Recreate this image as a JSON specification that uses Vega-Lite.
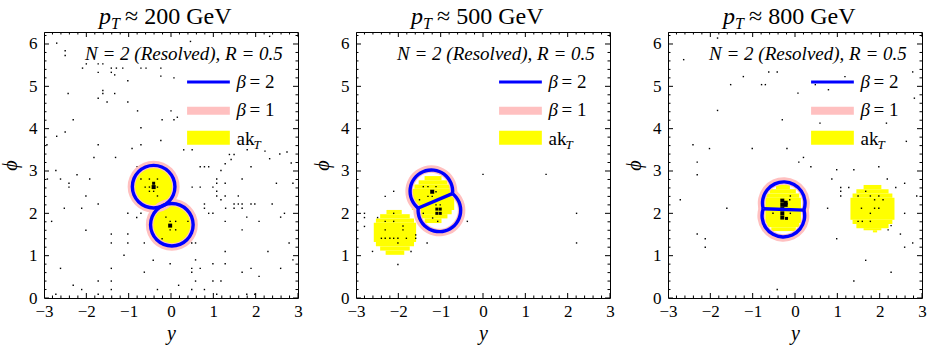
{
  "$schema": "https://vega.github.io/schema/vega-lite/v6.json",
  "background": "white",
  "padding": {"left": 0, "top": 4, "right": 0, "bottom": 2},
  "bounds": "flush",
  "spacing": 58,
  "datasets": {
    "xt": [{"x":-3,"m":1},{"x":-2.8,"m":0},{"x":-2.6,"m":0},{"x":-2.4,"m":0},{"x":-2.2,"m":0},{"x":-2,"m":1},{"x":-1.8,"m":0},{"x":-1.6,"m":0},{"x":-1.4,"m":0},{"x":-1.2,"m":0},{"x":-1,"m":1},{"x":-0.8,"m":0},{"x":-0.6,"m":0},{"x":-0.4,"m":0},{"x":-0.2,"m":0},{"x":0,"m":1},{"x":0.2,"m":0},{"x":0.4,"m":0},{"x":0.6,"m":0},{"x":0.8,"m":0},{"x":1,"m":1},{"x":1.2,"m":0},{"x":1.4,"m":0},{"x":1.6,"m":0},{"x":1.8,"m":0},{"x":2,"m":1},{"x":2.2,"m":0},{"x":2.4,"m":0},{"x":2.6,"m":0},{"x":2.8,"m":0},{"x":3,"m":1}],
    "yt": [{"y":0,"m":1},{"y":0.2,"m":0},{"y":0.4,"m":0},{"y":0.6,"m":0},{"y":0.8,"m":0},{"y":1,"m":1},{"y":1.2,"m":0},{"y":1.4,"m":0},{"y":1.6,"m":0},{"y":1.8,"m":0},{"y":2,"m":1},{"y":2.2,"m":0},{"y":2.4,"m":0},{"y":2.6,"m":0},{"y":2.8,"m":0},{"y":3,"m":1},{"y":3.2,"m":0},{"y":3.4,"m":0},{"y":3.6,"m":0},{"y":3.8,"m":0},{"y":4,"m":1},{"y":4.2,"m":0},{"y":4.4,"m":0},{"y":4.6,"m":0},{"y":4.8,"m":0},{"y":5,"m":1},{"y":5.2,"m":0},{"y":5.4,"m":0},{"y":5.6,"m":0},{"y":5.8,"m":0},{"y":6,"m":1},{"y":6.2,"m":0}],
    "p1_arcs": [{"x":-0.41,"y":2.63,"t1":0,"t2":6.2832},{"x":0.02,"y":1.73,"t1":0,"t2":6.2832}],
    "p2_arcs": [{"x":-1.22,"y":2.52,"t1":3.800,"t2":7.964},{"x":-1.03,"y":2.07,"t1":0.658,"t2":4.822}],
    "p3_arcs": [{"x":-0.265,"y":2.24,"t1":4.447,"t2":8.189},{"x":-0.275,"y":1.945,"t1":1.306,"t2":5.047}],
    "p2_chord": [{"x":-1.526,"y":2.125,"x2":-0.724,"y2":2.465}],
    "p3_chord": [{"x":-0.747,"y":2.109,"x2":0.207,"y2":2.076}],
    "p2_akt": [
      {"x":-2.30,"x2":-1.86,"y":1.02,"y2":1.12},{"x":-2.43,"x2":-1.73,"y":1.12,"y2":1.22},{"x":-2.53,"x2":-1.63,"y":1.22,"y2":1.32},{"x":-2.58,"x2":-1.58,"y":1.32,"y2":1.78},{"x":-2.53,"x2":-1.63,"y":1.78,"y2":1.88},{"x":-2.43,"x2":-1.73,"y":1.88,"y2":1.98},{"x":-2.28,"x2":-1.92,"y":1.98,"y2":2.08},
      {"x":-1.38,"x2":-0.98,"y":1.77,"y2":1.88},{"x":-1.52,"x2":-0.84,"y":1.88,"y2":1.98},{"x":-1.62,"x2":-0.74,"y":1.98,"y2":2.08},{"x":-1.68,"x2":-0.68,"y":2.08,"y2":2.58},{"x":-1.62,"x2":-0.74,"y":2.58,"y2":2.68},{"x":-1.52,"x2":-0.84,"y":2.68,"y2":2.78},{"x":-1.38,"x2":-0.98,"y":2.78,"y2":2.88}
    ],
    "p3_akt": [
      {"x":-0.56,"x2":0.02,"y":1.58,"y2":1.67},{"x":-0.66,"x2":0.10,"y":1.67,"y2":1.77},{"x":-0.70,"x2":0.14,"y":1.77,"y2":2.37},{"x":-0.68,"x2":0.10,"y":2.37,"y2":2.47},{"x":-0.60,"x2":0.02,"y":2.47,"y2":2.57},{"x":-0.45,"x2":-0.12,"y":2.57,"y2":2.67},
      {"x":1.84,"x2":1.94,"y":1.55,"y2":1.60},{"x":1.62,"x2":2.04,"y":1.60,"y2":1.65},{"x":1.45,"x2":2.21,"y":1.65,"y2":1.75},{"x":1.36,"x2":2.30,"y":1.75,"y2":1.85},{"x":1.31,"x2":2.35,"y":1.85,"y2":2.37},{"x":1.36,"x2":2.30,"y":2.37,"y2":2.47},{"x":1.45,"x2":2.21,"y":2.47,"y2":2.57},{"x":1.62,"x2":2.04,"y":2.57,"y2":2.67}
    ],
    "p1_pts": [
      {"x":-2.70,"y":6.02,"s":1},{"x":-2.50,"y":5.84,"s":1},{"x":-2.50,"y":5.73,"s":1},{"x":-2.00,"y":5.53,"s":1},{"x":-1.72,"y":5.53,"s":1},{"x":-1.61,"y":5.53,"s":1},{"x":-2.09,"y":5.43,"s":1},{"x":-1.41,"y":5.43,"s":1},{"x":-1.29,"y":5.43,"s":1},{"x":-1.14,"y":5.43,"s":1},{"x":-0.71,"y":5.43,"s":1},{"x":-0.59,"y":5.43,"s":1},{"x":-0.24,"y":5.43,"s":1},{"x":-1.72,"y":5.33,"s":1},{"x":-1.41,"y":5.33,"s":1},{"x":-1.33,"y":5.27,"s":1},{"x":-0.24,"y":5.24,"s":1},{"x":-1.02,"y":5.13,"s":1},{"x":-1.61,"y":4.90,"s":1},{"x":-1.61,"y":4.83,"s":1},{"x":-2.43,"y":4.83,"s":1},{"x":-1.33,"y":4.83,"s":1},{"x":-1.72,"y":4.72,"s":1},{"x":-1.51,"y":4.63,"s":1},{"x":-1.02,"y":4.63,"s":1},{"x":-0.79,"y":4.42,"s":1},{"x":0.00,"y":4.42,"s":1},{"x":-2.31,"y":4.21,"s":1},{"x":-0.21,"y":4.21,"s":1},{"x":-2.50,"y":3.92,"s":1},{"x":-2.70,"y":3.82,"s":1},{"x":-0.71,"y":4.02,"s":1},{"x":-2.93,"y":3.62,"s":1},{"x":-1.72,"y":3.62,"s":1},{"x":-0.71,"y":3.62,"s":1},{"x":-0.24,"y":3.72,"s":1},{"x":-0.92,"y":3.53,"s":1},{"x":-1.82,"y":3.32,"s":1},{"x":-1.31,"y":3.32,"s":1},
      {"x":0.07,"y":5.20,"s":1},{"x":0.15,"y":4.27,"s":1},{"x":0.07,"y":4.21,"s":1},{"x":0.30,"y":3.50,"s":1},{"x":0.50,"y":3.50,"s":1},{"x":1.38,"y":3.39,"s":1},{"x":1.49,"y":3.39,"s":1},{"x":1.42,"y":3.27,"s":1},{"x":1.28,"y":3.17,"s":1},{"x":1.80,"y":3.50,"s":1},{"x":2.22,"y":3.47,"s":1},{"x":2.33,"y":3.29,"s":1},{"x":2.57,"y":3.40,"s":1},{"x":2.74,"y":3.45,"s":1},{"x":2.84,"y":3.19,"s":1},{"x":0.46,"y":6.06,"s":1},{"x":2.33,"y":6.18,"s":1},
      {"x":-2.72,"y":3.01,"s":1},{"x":-2.22,"y":2.91,"s":1},{"x":-2.92,"y":2.81,"s":1},{"x":-2.61,"y":2.81,"s":1},{"x":-1.92,"y":2.81,"s":1},{"x":-2.41,"y":2.71,"s":1},{"x":-2.41,"y":2.62,"s":1},{"x":-2.01,"y":2.41,"s":1},{"x":-1.72,"y":2.22,"s":1},{"x":-2.52,"y":2.12,"s":1},{"x":-2.11,"y":2.12,"s":1},{"x":-2.82,"y":1.81,"s":1},{"x":-2.01,"y":1.60,"s":1},{"x":-1.41,"y":1.51,"s":1},{"x":-1.02,"y":1.51,"s":1},{"x":-1.41,"y":1.30,"s":1},{"x":-1.02,"y":1.30,"s":1},{"x":-0.63,"y":1.30,"s":1},{"x":-1.11,"y":1.01,"s":1},{"x":-0.42,"y":0.89,"s":1},{"x":-0.02,"y":0.81,"s":1},{"x":-2.61,"y":0.70,"s":1},{"x":-1.41,"y":0.70,"s":1},{"x":-0.63,"y":0.61,"s":1},{"x":-1.72,"y":0.40,"s":1},{"x":-1.41,"y":0.40,"s":1},{"x":-2.31,"y":0.30,"s":1},{"x":-2.11,"y":0.20,"s":1},{"x":-1.41,"y":0.20,"s":1},{"x":-2.72,"y":0.09,"s":1},{"x":-1.72,"y":0.09,"s":1},{"x":-0.32,"y":0.20,"s":1},{"x":-0.80,"y":3.10,"s":1},{"x":-0.71,"y":2.00,"s":1},{"x":-0.81,"y":1.90,"s":1},{"x":-1.02,"y":2.00,"s":1},
      {"x":-0.71,"y":2.81,"s":1},{"x":-0.51,"y":2.81,"s":1},{"x":-0.41,"y":2.71,"s":2},{"x":-0.32,"y":2.81,"s":1},{"x":-0.51,"y":2.62,"s":1},{"x":-0.41,"y":2.62,"s":3},{"x":-0.32,"y":2.62,"s":1},{"x":-0.51,"y":2.52,"s":1},{"x":-0.41,"y":2.52,"s":1},{"x":-0.32,"y":2.41,"s":1},{"x":-0.61,"y":2.62,"s":1},{"x":-0.12,"y":1.91,"s":1},{"x":-0.02,"y":1.81,"s":1},{"x":-0.02,"y":1.71,"s":3},{"x":-0.02,"y":1.61,"s":1},{"x":-0.21,"y":1.40,"s":1},{"x":0.11,"y":1.81,"s":1},{"x":0.11,"y":1.61,"s":1},
      {"x":0.69,"y":3.10,"s":1},{"x":0.79,"y":3.10,"s":1},{"x":0.89,"y":3.10,"s":1},{"x":1.18,"y":3.01,"s":1},{"x":1.89,"y":3.10,"s":1},{"x":1.08,"y":2.81,"s":1},{"x":1.08,"y":2.71,"s":1},{"x":1.68,"y":2.81,"s":1},{"x":1.28,"y":2.71,"s":1},{"x":2.49,"y":2.71,"s":1},{"x":2.88,"y":2.71,"s":1},{"x":0.50,"y":2.62,"s":1},{"x":0.69,"y":2.62,"s":1},{"x":0.99,"y":2.62,"s":1},{"x":1.08,"y":2.52,"s":1},{"x":1.08,"y":2.41,"s":1},{"x":1.28,"y":2.41,"s":1},{"x":1.59,"y":2.41,"s":1},{"x":1.18,"y":2.32,"s":1},{"x":0.79,"y":2.22,"s":1},{"x":0.79,"y":2.12,"s":1},{"x":1.49,"y":2.22,"s":1},{"x":1.59,"y":2.22,"s":1},{"x":1.68,"y":2.22,"s":1},{"x":1.89,"y":2.22,"s":1},{"x":1.98,"y":2.22,"s":1},{"x":2.39,"y":2.22,"s":1},{"x":1.49,"y":2.12,"s":1},{"x":1.68,"y":2.12,"s":1},{"x":1.29,"y":2.12,"s":1},{"x":0.89,"y":2.00,"s":1},{"x":0.99,"y":2.00,"s":1},{"x":2.68,"y":2.00,"s":1},{"x":1.79,"y":1.91,"s":1},{"x":2.59,"y":1.91,"s":1},{"x":1.28,"y":1.81,"s":1},{"x":2.08,"y":1.81,"s":1},{"x":0.40,"y":1.81,"s":1},{"x":0.58,"y":1.71,"s":1},{"x":0.58,"y":1.61,"s":1},{"x":1.68,"y":1.61,"s":1},{"x":0.49,"y":1.30,"s":1},{"x":0.58,"y":1.30,"s":1},{"x":2.79,"y":1.30,"s":1},{"x":1.28,"y":1.10,"s":1},{"x":2.29,"y":1.10,"s":1},{"x":0.58,"y":0.90,"s":1},{"x":2.88,"y":0.90,"s":1},{"x":0.99,"y":0.81,"s":1},{"x":1.28,"y":0.81,"s":1},{"x":0.49,"y":0.70,"s":1},{"x":0.69,"y":0.70,"s":1},{"x":1.89,"y":0.70,"s":1},{"x":2.59,"y":0.70,"s":1},{"x":0.49,"y":0.61,"s":1},{"x":1.68,"y":0.61,"s":1},{"x":2.08,"y":0.51,"s":1},{"x":0.58,"y":0.40,"s":1},{"x":0.99,"y":0.40,"s":1},{"x":1.18,"y":0.40,"s":1},{"x":0.18,"y":0.30,"s":1},{"x":0.79,"y":0.20,"s":1},{"x":0.49,"y":0.20,"s":1},{"x":1.08,"y":0.09,"s":1},{"x":1.79,"y":0.09,"s":1},{"x":1.98,"y":0.09,"s":1}
    ],
    "p2_pts": [
      {"x":0.00,"y":2.92,"s":1},{"x":1.49,"y":2.92,"s":1},{"x":2.21,"y":2.00,"s":1},{"x":2.21,"y":1.30,"s":1},{"x":-0.37,"y":1.81,"s":1},{"x":-2.11,"y":2.52,"s":1},{"x":-2.31,"y":2.40,"s":1},{"x":-2.80,"y":2.00,"s":1},{"x":-2.80,"y":1.90,"s":1},{"x":-2.80,"y":1.69,"s":1},{"x":-2.49,"y":1.90,"s":1},{"x":-2.61,"y":1.10,"s":1},{"x":-2.01,"y":0.79,"s":1},{"x":-1.32,"y":1.30,"s":1},{"x":-1.70,"y":1.10,"s":1},
      {"x":-2.31,"y":1.81,"s":1},{"x":-2.11,"y":1.81,"s":1},{"x":-2.31,"y":1.61,"s":1},{"x":-2.40,"y":1.41,"s":1},{"x":-2.31,"y":1.41,"s":1},{"x":-2.20,"y":1.41,"s":1},{"x":-2.11,"y":1.41,"s":1},{"x":-2.01,"y":1.41,"s":1},{"x":-1.89,"y":1.70,"s":1},{"x":-1.89,"y":1.61,"s":1},{"x":-2.01,"y":1.30,"s":1},{"x":-1.59,"y":1.49,"s":1},{"x":-1.59,"y":1.41,"s":1},{"x":-1.81,"y":1.41,"s":1},{"x":-2.11,"y":2.00,"s":1},
      {"x":-1.30,"y":2.63,"s":1},{"x":-1.20,"y":2.51,"s":3},{"x":-1.11,"y":2.51,"s":1},{"x":-1.30,"y":2.40,"s":1},{"x":-1.20,"y":2.40,"s":1},{"x":-1.50,"y":2.32,"s":1},{"x":-1.41,"y":2.63,"s":1},{"x":-1.11,"y":2.63,"s":1},
      {"x":-1.11,"y":2.20,"s":1},{"x":-1.09,"y":2.10,"s":2},{"x":-1.01,"y":2.10,"s":2},{"x":-1.09,"y":2.00,"s":2},{"x":-1.01,"y":2.00,"s":2},{"x":-1.19,"y":1.89,"s":1},{"x":-1.01,"y":2.20,"s":1},{"x":-1.41,"y":2.00,"s":1},{"x":-1.07,"y":1.81,"s":1}
    ],
    "p3_pts": [
      {"x":-1.83,"y":6.14,"s":1},{"x":-1.22,"y":5.23,"s":1},{"x":-0.62,"y":5.34,"s":1},{"x":-0.42,"y":5.34,"s":1},{"x":-1.52,"y":5.04,"s":1},{"x":-0.79,"y":5.04,"s":1},{"x":-0.70,"y":5.04,"s":1},{"x":0.48,"y":5.04,"s":1},{"x":0.79,"y":4.92,"s":1},{"x":1.18,"y":5.23,"s":1},{"x":2.78,"y":5.34,"s":1},{"x":-1.83,"y":4.43,"s":1},{"x":-0.30,"y":4.21,"s":1},{"x":0.59,"y":4.13,"s":1},{"x":2.16,"y":4.13,"s":1},{"x":-2.41,"y":3.62,"s":1},{"x":-2.02,"y":3.53,"s":1},{"x":-1.01,"y":3.53,"s":1},{"x":-0.19,"y":3.53,"s":1},{"x":-2.31,"y":3.21,"s":1},{"x":0.09,"y":3.21,"s":1},{"x":0.20,"y":3.32,"s":1},{"x":-2.63,"y":5.63,"s":1},{"x":0.07,"y":4.84,"s":1},{"x":2.82,"y":4.72,"s":1},{"x":2.63,"y":3.70,"s":1},
      {"x":0.375,"y":3.10,"s":1},{"x":0.985,"y":3.03,"s":1},{"x":1.39,"y":3.03,"s":1},{"x":1.98,"y":3.10,"s":1},{"x":-2.31,"y":2.91,"s":1},{"x":0.87,"y":2.81,"s":1},{"x":2.18,"y":2.81,"s":1},{"x":2.59,"y":2.71,"s":1},{"x":1.08,"y":2.61,"s":1},{"x":1.27,"y":2.61,"s":1},{"x":2.38,"y":2.61,"s":1},{"x":1.08,"y":2.52,"s":1},{"x":1.08,"y":2.41,"s":1},{"x":2.875,"y":2.41,"s":1},{"x":-2.71,"y":2.32,"s":1},{"x":-1.61,"y":2.12,"s":1},{"x":0.77,"y":2.12,"s":1},{"x":2.59,"y":2.00,"s":1},{"x":2.27,"y":1.71,"s":1},{"x":2.20,"y":1.61,"s":1},{"x":2.49,"y":1.51,"s":1},{"x":2.78,"y":1.30,"s":1},{"x":-2.31,"y":1.51,"s":1},{"x":-2.12,"y":1.40,"s":1},{"x":-2.12,"y":1.20,"s":1},{"x":0.985,"y":1.40,"s":1},{"x":2.59,"y":1.20,"s":1},{"x":1.67,"y":0.89,"s":1},{"x":2.27,"y":0.61,"s":1},{"x":1.39,"y":0.40,"s":1},{"x":-0.42,"y":0.20,"s":1},
      {"x":1.49,"y":2.41,"s":1},{"x":1.78,"y":2.41,"s":1},{"x":1.98,"y":2.41,"s":1},{"x":2.08,"y":2.32,"s":1},{"x":1.67,"y":2.52,"s":1},{"x":1.88,"y":2.32,"s":1},{"x":1.57,"y":2.12,"s":1},{"x":1.88,"y":2.12,"s":1},{"x":1.98,"y":2.12,"s":1},{"x":1.78,"y":2.00,"s":1},{"x":1.49,"y":1.81,"s":1},{"x":1.59,"y":1.81,"s":1},{"x":1.78,"y":1.81,"s":1},
      {"x":-0.11,"y":2.41,"s":1},{"x":-0.125,"y":2.32,"s":1},{"x":-0.52,"y":2.00,"s":1},{"x":-0.11,"y":2.00,"s":1},{"x":-0.20,"y":1.88,"s":2},
      {"x":-0.30,"y":2.30,"s":3},{"x":-0.22,"y":2.25,"s":3},{"x":-0.22,"y":2.20,"s":3},{"x":-0.30,"y":2.20,"s":3},{"x":-0.30,"y":2.10,"s":3},{"x":-0.30,"y":2.00,"s":3},{"x":-0.30,"y":1.90,"s":3}
    ]
  },
  "hconcat": [
    {
      "width": 254,
      "height": 266,
      "layer": [
        {
          "encoding": {
            "x": {"field": "x", "type": "quantitative", "title": "y", "scale": {"domain": [-3, 3], "nice": false, "zero": false}, "axis": {"values": [-3, -2, -1, 0, 1, 2, 3]}},
            "y": {"field": "y", "type": "quantitative", "title": "ϕ", "scale": {"domain": [0, 6.2832], "nice": false, "zero": false}, "axis": {"values": [0, 1, 2, 3, 4, 5, 6]}}
          },
          "layer": [
            {"data": {"name": "p1_arcs"}, "mark": {"type": "arc", "radius": 21, "radius2": 0, "color": "#FFFF00", "strokeWidth": 0}, "encoding": {"theta": {"field": "t1", "type": "quantitative", "scale": null, "stack": null}, "theta2": {"field": "t2"}}},
            {"data": {"name": "p1_pts"}, "mark": {"type": "point", "shape": "square", "filled": true, "color": "black", "opacity": 1, "strokeWidth": 0}, "encoding": {"size": {"field": "s", "type": "quantitative", "scale": {"domain": [1, 3], "range": [2, 16]}, "legend": null}}},
            {"data": {"name": "p1_arcs"}, "mark": {"type": "arc", "radius": 26, "radius2": 18.5, "color": "#FFC0C0", "strokeWidth": 0}, "encoding": {"theta": {"field": "t1", "type": "quantitative", "scale": null, "stack": null}, "theta2": {"field": "t2"}}},
            {"data": {"name": "p1_arcs"}, "mark": {"type": "arc", "radius": 23, "radius2": 19.6, "color": "#0000FF", "strokeWidth": 0}, "encoding": {"theta": {"field": "t1", "type": "quantitative", "scale": null, "stack": null}, "theta2": {"field": "t2"}}}
          ]
        },
        {"data": {"name": "xt"}, "mark": {"type": "tick", "orient": "vertical", "clip": true, "color": "black", "thickness": 1, "opacity": 1}, "encoding": {"x": {"field": "x", "type": "quantitative", "title": "y"}, "y": {"datum": 0}, "size": {"field": "m", "type": "quantitative", "scale": {"domain": [0, 1], "range": [5, 10]}, "legend": null}}},
        {"data": {"name": "xt"}, "mark": {"type": "tick", "orient": "vertical", "clip": true, "color": "black", "thickness": 1, "opacity": 1}, "encoding": {"x": {"field": "x", "type": "quantitative", "title": "y"}, "y": {"datum": 6.2832}, "size": {"field": "m", "type": "quantitative", "scale": {"domain": [0, 1], "range": [5, 10]}, "legend": null}}},
        {"data": {"name": "yt"}, "mark": {"type": "tick", "orient": "horizontal", "clip": true, "color": "black", "thickness": 1, "opacity": 1}, "encoding": {"y": {"field": "y", "type": "quantitative", "title": "ϕ"}, "x": {"datum": -3}, "size": {"field": "m", "type": "quantitative", "scale": {"domain": [0, 1], "range": [5, 10]}, "legend": null}}},
        {"data": {"name": "yt"}, "mark": {"type": "tick", "orient": "horizontal", "clip": true, "color": "black", "thickness": 1, "opacity": 1}, "encoding": {"y": {"field": "y", "type": "quantitative", "title": "ϕ"}, "x": {"datum": 3}, "size": {"field": "m", "type": "quantitative", "scale": {"domain": [0, 1], "range": [5, 10]}, "legend": null}}},
        {"data": {"values": [{}]}, "mark": {"type": "rule", "color": "#0000FF", "strokeWidth": 3}, "encoding": {"x": {"datum": 0.38}, "x2": {"datum": 1.39}, "y": {"datum": 5.10}}},
        {"data": {"values": [{}]}, "mark": {"type": "rule", "color": "#FFC0C0", "strokeWidth": 8}, "encoding": {"x": {"datum": 0.38}, "x2": {"datum": 1.39}, "y": {"datum": 4.425}}},
        {"data": {"values": [{}]}, "mark": {"type": "rect", "color": "#FFFF00"}, "encoding": {"x": {"datum": 0.38}, "x2": {"datum": 1.39}, "y": {"datum": 3.62}, "y2": {"datum": 3.95}}},
        {"data": {"values": [{}]}, "mark": {"type": "text", "text": "β", "fontStyle": "italic", "fontSize": 19, "align": "left", "baseline": "alphabetic"}, "encoding": {"x": {"datum": 1.55}, "y": {"datum": 4.96}}},
        {"data": {"values": [{}]}, "mark": {"type": "text", "text": "= 2", "fontSize": 19, "align": "left", "baseline": "alphabetic", "dx": 13}, "encoding": {"x": {"datum": 1.55}, "y": {"datum": 4.96}}},
        {"data": {"values": [{}]}, "mark": {"type": "text", "text": "β", "fontStyle": "italic", "fontSize": 19, "align": "left", "baseline": "alphabetic"}, "encoding": {"x": {"datum": 1.55}, "y": {"datum": 4.29}}},
        {"data": {"values": [{}]}, "mark": {"type": "text", "text": "= 1", "fontSize": 19, "align": "left", "baseline": "alphabetic", "dx": 13}, "encoding": {"x": {"datum": 1.55}, "y": {"datum": 4.29}}},
        {"data": {"values": [{}]}, "mark": {"type": "text", "text": "ak", "fontSize": 19, "align": "left", "baseline": "alphabetic"}, "encoding": {"x": {"datum": 1.55}, "y": {"datum": 3.62}}},
        {"data": {"values": [{}]}, "mark": {"type": "text", "text": "T", "fontStyle": "italic", "fontSize": 13, "align": "left", "baseline": "alphabetic", "dx": 17, "dy": 4}, "encoding": {"x": {"datum": 1.55}, "y": {"datum": 3.62}}},
        {"data": {"values": [{}]}, "mark": {"type": "text", "text": "N = 2 (Resolved), R = 0.5", "fontStyle": "italic", "fontSize": 19, "align": "right", "baseline": "alphabetic"}, "encoding": {"x": {"datum": 2.64}, "y": {"datum": 5.62}}},
        {"data": {"values": [{}]}, "mark": {"type": "text", "text": "p", "fontStyle": "italic", "fontSize": 24, "align": "left", "baseline": "alphabetic"}, "encoding": {"x": {"datum": -1.70}, "y": {"datum": 6.48}}},
        {"data": {"values": [{}]}, "mark": {"type": "text", "text": "T", "fontStyle": "italic", "fontSize": 16, "align": "left", "baseline": "alphabetic", "dx": 12, "dy": 5}, "encoding": {"x": {"datum": -1.70}, "y": {"datum": 6.48}}},
        {"data": {"values": [{}]}, "mark": {"type": "text", "text": "≈ 200 GeV", "fontSize": 24, "align": "left", "baseline": "alphabetic", "dx": 26}, "encoding": {"x": {"datum": -1.70}, "y": {"datum": 6.48}}}
      ],
      "resolve": {"scale": {"size": "independent"}}
    },
    {
      "width": 254,
      "height": 266,
      "layer": [
        {
          "encoding": {
            "x": {"field": "x", "type": "quantitative", "title": "y", "scale": {"domain": [-3, 3], "nice": false, "zero": false}, "axis": {"values": [-3, -2, -1, 0, 1, 2, 3]}},
            "y": {"field": "y", "type": "quantitative", "title": "ϕ", "scale": {"domain": [0, 6.2832], "nice": false, "zero": false}, "axis": {"values": [0, 1, 2, 3, 4, 5, 6]}}
          },
          "layer": [
            {"data": {"name": "p2_akt"}, "mark": {"type": "rect", "color": "#FFFF00", "strokeWidth": 0}, "encoding": {"x2": {"field": "x2"}, "y2": {"field": "y2"}}},
            {"data": {"name": "p2_pts"}, "mark": {"type": "point", "shape": "square", "filled": true, "color": "black", "opacity": 1, "strokeWidth": 0}, "encoding": {"size": {"field": "s", "type": "quantitative", "scale": {"domain": [1, 3], "range": [2, 16]}, "legend": null}}},
            {"data": {"name": "p2_arcs"}, "mark": {"type": "arc", "radius": 26, "radius2": 18.5, "color": "#FFC0C0", "strokeWidth": 0}, "encoding": {"theta": {"field": "t1", "type": "quantitative", "scale": null, "stack": null}, "theta2": {"field": "t2"}}},
            {"data": {"name": "p2_arcs"}, "mark": {"type": "arc", "radius": 23, "radius2": 19.6, "color": "#0000FF", "strokeWidth": 0}, "encoding": {"theta": {"field": "t1", "type": "quantitative", "scale": null, "stack": null}, "theta2": {"field": "t2"}}},
            {"data": {"name": "p2_chord"}, "mark": {"type": "rule", "color": "#0000FF", "strokeWidth": 3.4}, "encoding": {"x2": {"field": "x2"}, "y2": {"field": "y2"}}}
          ]
        },
        {"data": {"name": "xt"}, "mark": {"type": "tick", "orient": "vertical", "clip": true, "color": "black", "thickness": 1, "opacity": 1}, "encoding": {"x": {"field": "x", "type": "quantitative", "title": "y"}, "y": {"datum": 0}, "size": {"field": "m", "type": "quantitative", "scale": {"domain": [0, 1], "range": [5, 10]}, "legend": null}}},
        {"data": {"name": "xt"}, "mark": {"type": "tick", "orient": "vertical", "clip": true, "color": "black", "thickness": 1, "opacity": 1}, "encoding": {"x": {"field": "x", "type": "quantitative", "title": "y"}, "y": {"datum": 6.2832}, "size": {"field": "m", "type": "quantitative", "scale": {"domain": [0, 1], "range": [5, 10]}, "legend": null}}},
        {"data": {"name": "yt"}, "mark": {"type": "tick", "orient": "horizontal", "clip": true, "color": "black", "thickness": 1, "opacity": 1}, "encoding": {"y": {"field": "y", "type": "quantitative", "title": "ϕ"}, "x": {"datum": -3}, "size": {"field": "m", "type": "quantitative", "scale": {"domain": [0, 1], "range": [5, 10]}, "legend": null}}},
        {"data": {"name": "yt"}, "mark": {"type": "tick", "orient": "horizontal", "clip": true, "color": "black", "thickness": 1, "opacity": 1}, "encoding": {"y": {"field": "y", "type": "quantitative", "title": "ϕ"}, "x": {"datum": 3}, "size": {"field": "m", "type": "quantitative", "scale": {"domain": [0, 1], "range": [5, 10]}, "legend": null}}},
        {"data": {"values": [{}]}, "mark": {"type": "rule", "color": "#0000FF", "strokeWidth": 3}, "encoding": {"x": {"datum": 0.38}, "x2": {"datum": 1.39}, "y": {"datum": 5.10}}},
        {"data": {"values": [{}]}, "mark": {"type": "rule", "color": "#FFC0C0", "strokeWidth": 8}, "encoding": {"x": {"datum": 0.38}, "x2": {"datum": 1.39}, "y": {"datum": 4.425}}},
        {"data": {"values": [{}]}, "mark": {"type": "rect", "color": "#FFFF00"}, "encoding": {"x": {"datum": 0.38}, "x2": {"datum": 1.39}, "y": {"datum": 3.62}, "y2": {"datum": 3.95}}},
        {"data": {"values": [{}]}, "mark": {"type": "text", "text": "β", "fontStyle": "italic", "fontSize": 19, "align": "left", "baseline": "alphabetic"}, "encoding": {"x": {"datum": 1.55}, "y": {"datum": 4.96}}},
        {"data": {"values": [{}]}, "mark": {"type": "text", "text": "= 2", "fontSize": 19, "align": "left", "baseline": "alphabetic", "dx": 13}, "encoding": {"x": {"datum": 1.55}, "y": {"datum": 4.96}}},
        {"data": {"values": [{}]}, "mark": {"type": "text", "text": "β", "fontStyle": "italic", "fontSize": 19, "align": "left", "baseline": "alphabetic"}, "encoding": {"x": {"datum": 1.55}, "y": {"datum": 4.29}}},
        {"data": {"values": [{}]}, "mark": {"type": "text", "text": "= 1", "fontSize": 19, "align": "left", "baseline": "alphabetic", "dx": 13}, "encoding": {"x": {"datum": 1.55}, "y": {"datum": 4.29}}},
        {"data": {"values": [{}]}, "mark": {"type": "text", "text": "ak", "fontSize": 19, "align": "left", "baseline": "alphabetic"}, "encoding": {"x": {"datum": 1.55}, "y": {"datum": 3.62}}},
        {"data": {"values": [{}]}, "mark": {"type": "text", "text": "T", "fontStyle": "italic", "fontSize": 13, "align": "left", "baseline": "alphabetic", "dx": 17, "dy": 4}, "encoding": {"x": {"datum": 1.55}, "y": {"datum": 3.62}}},
        {"data": {"values": [{}]}, "mark": {"type": "text", "text": "N = 2 (Resolved), R = 0.5", "fontStyle": "italic", "fontSize": 19, "align": "right", "baseline": "alphabetic"}, "encoding": {"x": {"datum": 2.64}, "y": {"datum": 5.62}}},
        {"data": {"values": [{}]}, "mark": {"type": "text", "text": "p", "fontStyle": "italic", "fontSize": 24, "align": "left", "baseline": "alphabetic"}, "encoding": {"x": {"datum": -1.70}, "y": {"datum": 6.48}}},
        {"data": {"values": [{}]}, "mark": {"type": "text", "text": "T", "fontStyle": "italic", "fontSize": 16, "align": "left", "baseline": "alphabetic", "dx": 12, "dy": 5}, "encoding": {"x": {"datum": -1.70}, "y": {"datum": 6.48}}},
        {"data": {"values": [{}]}, "mark": {"type": "text", "text": "≈ 500 GeV", "fontSize": 24, "align": "left", "baseline": "alphabetic", "dx": 26}, "encoding": {"x": {"datum": -1.70}, "y": {"datum": 6.48}}}
      ],
      "resolve": {"scale": {"size": "independent"}}
    },
    {
      "width": 254,
      "height": 266,
      "layer": [
        {
          "encoding": {
            "x": {"field": "x", "type": "quantitative", "title": "y", "scale": {"domain": [-3, 3], "nice": false, "zero": false}, "axis": {"values": [-3, -2, -1, 0, 1, 2, 3]}},
            "y": {"field": "y", "type": "quantitative", "title": "ϕ", "scale": {"domain": [0, 6.2832], "nice": false, "zero": false}, "axis": {"values": [0, 1, 2, 3, 4, 5, 6]}}
          },
          "layer": [
            {"data": {"name": "p3_akt"}, "mark": {"type": "rect", "color": "#FFFF00", "strokeWidth": 0}, "encoding": {"x2": {"field": "x2"}, "y2": {"field": "y2"}}},
            {"data": {"name": "p3_pts"}, "mark": {"type": "point", "shape": "square", "filled": true, "color": "black", "opacity": 1, "strokeWidth": 0}, "encoding": {"size": {"field": "s", "type": "quantitative", "scale": {"domain": [1, 3], "range": [2, 16]}, "legend": null}}},
            {"data": {"name": "p3_arcs"}, "mark": {"type": "arc", "radius": 26, "radius2": 18.5, "color": "#FFC0C0", "strokeWidth": 0}, "encoding": {"theta": {"field": "t1", "type": "quantitative", "scale": null, "stack": null}, "theta2": {"field": "t2"}}},
            {"data": {"name": "p3_arcs"}, "mark": {"type": "arc", "radius": 23, "radius2": 19.6, "color": "#0000FF", "strokeWidth": 0}, "encoding": {"theta": {"field": "t1", "type": "quantitative", "scale": null, "stack": null}, "theta2": {"field": "t2"}}},
            {"data": {"name": "p3_chord"}, "mark": {"type": "rule", "color": "#0000FF", "strokeWidth": 3.4}, "encoding": {"x2": {"field": "x2"}, "y2": {"field": "y2"}}}
          ]
        },
        {"data": {"name": "xt"}, "mark": {"type": "tick", "orient": "vertical", "clip": true, "color": "black", "thickness": 1, "opacity": 1}, "encoding": {"x": {"field": "x", "type": "quantitative", "title": "y"}, "y": {"datum": 0}, "size": {"field": "m", "type": "quantitative", "scale": {"domain": [0, 1], "range": [5, 10]}, "legend": null}}},
        {"data": {"name": "xt"}, "mark": {"type": "tick", "orient": "vertical", "clip": true, "color": "black", "thickness": 1, "opacity": 1}, "encoding": {"x": {"field": "x", "type": "quantitative", "title": "y"}, "y": {"datum": 6.2832}, "size": {"field": "m", "type": "quantitative", "scale": {"domain": [0, 1], "range": [5, 10]}, "legend": null}}},
        {"data": {"name": "yt"}, "mark": {"type": "tick", "orient": "horizontal", "clip": true, "color": "black", "thickness": 1, "opacity": 1}, "encoding": {"y": {"field": "y", "type": "quantitative", "title": "ϕ"}, "x": {"datum": -3}, "size": {"field": "m", "type": "quantitative", "scale": {"domain": [0, 1], "range": [5, 10]}, "legend": null}}},
        {"data": {"name": "yt"}, "mark": {"type": "tick", "orient": "horizontal", "clip": true, "color": "black", "thickness": 1, "opacity": 1}, "encoding": {"y": {"field": "y", "type": "quantitative", "title": "ϕ"}, "x": {"datum": 3}, "size": {"field": "m", "type": "quantitative", "scale": {"domain": [0, 1], "range": [5, 10]}, "legend": null}}},
        {"data": {"values": [{}]}, "mark": {"type": "rule", "color": "#0000FF", "strokeWidth": 3}, "encoding": {"x": {"datum": 0.38}, "x2": {"datum": 1.39}, "y": {"datum": 5.10}}},
        {"data": {"values": [{}]}, "mark": {"type": "rule", "color": "#FFC0C0", "strokeWidth": 8}, "encoding": {"x": {"datum": 0.38}, "x2": {"datum": 1.39}, "y": {"datum": 4.425}}},
        {"data": {"values": [{}]}, "mark": {"type": "rect", "color": "#FFFF00"}, "encoding": {"x": {"datum": 0.38}, "x2": {"datum": 1.39}, "y": {"datum": 3.62}, "y2": {"datum": 3.95}}},
        {"data": {"values": [{}]}, "mark": {"type": "text", "text": "β", "fontStyle": "italic", "fontSize": 19, "align": "left", "baseline": "alphabetic"}, "encoding": {"x": {"datum": 1.55}, "y": {"datum": 4.96}}},
        {"data": {"values": [{}]}, "mark": {"type": "text", "text": "= 2", "fontSize": 19, "align": "left", "baseline": "alphabetic", "dx": 13}, "encoding": {"x": {"datum": 1.55}, "y": {"datum": 4.96}}},
        {"data": {"values": [{}]}, "mark": {"type": "text", "text": "β", "fontStyle": "italic", "fontSize": 19, "align": "left", "baseline": "alphabetic"}, "encoding": {"x": {"datum": 1.55}, "y": {"datum": 4.29}}},
        {"data": {"values": [{}]}, "mark": {"type": "text", "text": "= 1", "fontSize": 19, "align": "left", "baseline": "alphabetic", "dx": 13}, "encoding": {"x": {"datum": 1.55}, "y": {"datum": 4.29}}},
        {"data": {"values": [{}]}, "mark": {"type": "text", "text": "ak", "fontSize": 19, "align": "left", "baseline": "alphabetic"}, "encoding": {"x": {"datum": 1.55}, "y": {"datum": 3.62}}},
        {"data": {"values": [{}]}, "mark": {"type": "text", "text": "T", "fontStyle": "italic", "fontSize": 13, "align": "left", "baseline": "alphabetic", "dx": 17, "dy": 4}, "encoding": {"x": {"datum": 1.55}, "y": {"datum": 3.62}}},
        {"data": {"values": [{}]}, "mark": {"type": "text", "text": "N = 2 (Resolved), R = 0.5", "fontStyle": "italic", "fontSize": 19, "align": "right", "baseline": "alphabetic"}, "encoding": {"x": {"datum": 2.64}, "y": {"datum": 5.62}}},
        {"data": {"values": [{}]}, "mark": {"type": "text", "text": "p", "fontStyle": "italic", "fontSize": 24, "align": "left", "baseline": "alphabetic"}, "encoding": {"x": {"datum": -1.70}, "y": {"datum": 6.48}}},
        {"data": {"values": [{}]}, "mark": {"type": "text", "text": "T", "fontStyle": "italic", "fontSize": 16, "align": "left", "baseline": "alphabetic", "dx": 12, "dy": 5}, "encoding": {"x": {"datum": -1.70}, "y": {"datum": 6.48}}},
        {"data": {"values": [{}]}, "mark": {"type": "text", "text": "≈ 800 GeV", "fontSize": 24, "align": "left", "baseline": "alphabetic", "dx": 26}, "encoding": {"x": {"datum": -1.70}, "y": {"datum": 6.48}}}
      ],
      "resolve": {"scale": {"size": "independent"}}
    }
  ],
  "config": {
    "font": "Liberation Serif",
    "view": {"stroke": "black", "strokeWidth": 1},
    "text": {"font": "Liberation Serif", "color": "black"},
    "axis": {
      "ticks": false,
      "tickSize": 0,
      "domain": false,
      "grid": false,
      "labelFlush": false,
      "labelOverlap": false,
      "labelFont": "Liberation Serif",
      "labelFontSize": 17,
      "labelColor": "black",
      "labelPadding": 5,
      "titleFont": "Liberation Serif",
      "titleFontSize": 20,
      "titleFontStyle": "italic",
      "titleFontWeight": "normal",
      "titleColor": "black"
    },
    "axisX": {"titlePadding": 4},
    "axisY": {"titlePadding": 8, "labelPadding": 7}
  }
}
